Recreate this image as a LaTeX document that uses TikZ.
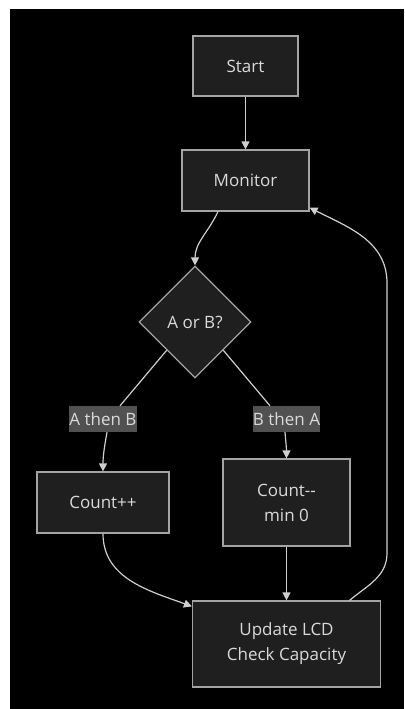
\documentclass[tikz,border=0pt]{standalone}
\usepackage{fontspec}
\setmainfont{Open Sans}
\usetikzlibrary{
    arrows.meta, % for the triangle arrow tips
    positioning, % for placing nodes relative to other nodes
    shapes.geometric % for the decision diamond
}
\definecolor{boxfill}{HTML}{1F1F1F}
\definecolor{boxline}{HTML}{A4A4A4}
\definecolor{boxtext}{HTML}{DADADA}
\definecolor{flowline}{HTML}{CFCFCF}
\definecolor{labelfill}{HTML}{515151}

\begin{document}
\begin{tikzpicture}[
        x=1pt,y=1pt,on grid,>={Triangle[length=8pt,width=8pt]},
        font=\fontsize{17}{25}\selectfont,
        flow box/.style   = {draw=boxline,fill=boxfill,text=boxtext,line width=1.2pt,
                             align=center,inner sep=0pt},
        decision/.style   = {flow box,diamond,aspect=1,minimum size=112pt},
        edge label/.style = {fill=labelfill,text=boxtext,inner sep=0pt,
                             minimum width=66pt,minimum height=26pt},
        flow/.style       = {draw=flowline,line width=1.2pt}
    ]

    % page and dark canvas
    \fill[white] (0,0) rectangle (404,-709);
    \fill[black] (10,-9) rectangle (404,-709);

    % nodes
    \node [flow box,minimum width=105pt,minimum height=60pt] (start) at (245.5,-66) {Start};
    \node [flow box,minimum width=127pt,minimum height=61pt] (monitor) [below=114.5pt of start] {Monitor};
    \node [decision] (check) [below left=141.5pt and 50.5pt of monitor] {A or B?};

    \node [edge label] (atob) [below left=97pt and 92pt of check]   {A then B};
    \node [edge label] (btoa) [below right=97pt and 91.5pt of check] {B then A};

    \node [flow box,minimum width=132pt,minimum height=61pt] (countup)   [below=83.5pt of atob] {Count++};
    \node [flow box,minimum width=127pt,minimum height=87pt] (countdown) [below=83.5pt of btoa] {Count-\kern0pt-\\min 0};
    \node [flow box,minimum width=188pt,minimum height=86pt] (update)    [below=141.5pt of countdown] {Update LCD\\Check Capacity};

    % bend points of the way back
    \coordinate (loop low)  at (387,-553);
    \coordinate (loop high) at (387,-283);

    % connectors
    \draw [flow,->] (start) -- (monitor);
    \draw [flow,->] ([xshift=-27.5pt]monitor.south) to[out=-115,in=90] (check.north);

    \draw [flow] (check.south west) -- ([xshift=17pt]atob.north);
    \draw [flow,->] ([xshift=4pt]atob.south) to[out=-100,in=90] (countup.north);
    \draw [flow] (check.south east) -- ([xshift=-16.5pt]btoa.north);
    \draw [flow,->] ([xshift=-1.5pt]btoa.south) to[out=-85,in=90] (countdown.north);

    \draw [flow,->] (countup.south) to[out=-90,in=160] ([yshift=-6pt]update.north west);
    \draw [flow,->] (countdown) -- (update);

    \draw [flow,->] ([xshift=63pt]update.north) to[out=40,in=-90] (loop low)
        -- (loop high) to[out=90,in=-27] ([yshift=4pt]monitor.south east);

\end{tikzpicture}
\end{document}
